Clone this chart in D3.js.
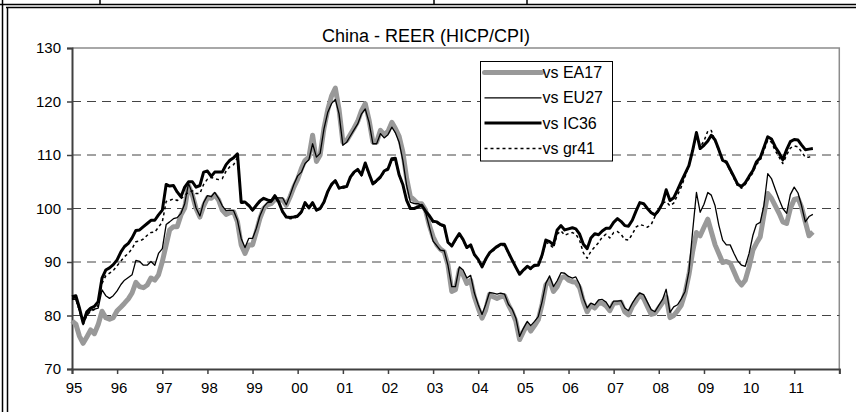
<!DOCTYPE html>
<html>
<head>
<meta charset="utf-8">
<script src="https://cdn.jsdelivr.net/npm/d3@7"></script>
<style>
  body { margin: 0; background: #fff; }
  svg { display: block; font-family: "Liberation Sans", Arial, sans-serif; }
</style>
</head>
<body>
<svg width="856" height="412"></svg>
<script>
// monthly data, Jan 1995 .. Jun 2011
const startYear = 1995;
const yearLabels = ['95', '96', '97', '98', '99', '00', '01', '02', '03', '04', '05', '06', '07', '08', '09', '10', '11'];
const yTicks = [70, 80, 90, 100, 110, 120, 130];
const gridValues = [80, 90, 100, 110, 120];

const ea17 = [
  79.0, 78.4, 76.2, 74.8, 76.0, 77.3, 76.6, 78.3, 80.8, 79.6, 79.3, 79.6,
  80.9, 81.6, 82.3, 83.1, 84.2, 86.2, 85.4, 85.2, 85.7, 87.0, 86.6, 87.6,
  90.1, 93.2, 96.0, 96.6, 96.6, 98.8, 100.1, 104.3, 102.5, 100.0, 98.4, 100.5,
  102.0, 101.9, 102.6, 101.6, 99.7, 98.9, 99.2, 99.4, 97.5, 93.2, 91.6, 93.2,
  93.2, 95.7, 98.1, 100.0, 100.7, 100.9, 101.7, 101.6, 101.6, 100.6, 102.2, 104.0,
  105.5, 107.5, 109.0, 109.6, 113.7, 108.8, 110.0, 115.0, 118.5, 121.0, 122.5, 118.5,
  112.4, 112.7, 113.8, 115.0, 116.3, 118.3, 119.6, 116.5, 112.4, 112.4, 114.6, 113.8,
  114.4, 116.1, 115.0, 113.5, 110.6, 105.6, 102.2, 101.6, 100.9, 100.9, 99.7, 96.9,
  94.7, 93.2, 92.4, 91.9, 89.5, 84.5, 84.8, 88.5, 87.6, 86.0, 86.6, 83.5,
  81.4, 79.5, 81.0, 83.9, 83.5, 83.2, 83.5, 83.7, 82.0, 80.7, 78.9, 75.5,
  77.0, 78.3, 77.1, 78.1, 79.2, 82.1, 85.7, 86.6, 84.5, 85.4, 87.0, 87.3,
  86.6, 86.3, 86.2, 85.2, 82.6, 80.7, 81.9, 81.4, 82.3, 82.3, 81.8, 80.9,
  82.3, 82.4, 82.5, 80.7, 80.1, 81.7, 82.7, 83.9, 83.2, 81.7, 80.2, 80.4,
  81.4, 82.4, 83.5, 79.6, 80.0, 80.9, 81.9, 84.2, 87.6, 91.9, 95.5, 94.9,
  96.5, 98.0, 95.7, 93.2, 91.6, 89.9, 90.1, 89.8, 88.2, 86.6, 85.7, 86.6,
  89.1, 92.2, 93.5, 94.7, 98.8, 102.8, 101.9, 100.5, 99.1, 97.5, 97.2, 100.0,
  101.7, 101.9, 100.3, 97.5, 94.9, 95.6
];

const eu27 = [
  83.2, 83.0, 81.0, 79.2, 80.0, 81.0, 81.2, 81.4, 84.8, 83.7, 83.2, 83.7,
  84.6, 85.8, 86.6, 87.1, 87.6, 90.3, 90.1, 89.4, 89.4, 90.1, 89.4, 91.6,
  92.5, 97.0, 97.5, 98.1, 98.3, 99.1, 100.9, 104.7, 102.8, 100.1, 98.6, 101.1,
  102.4, 102.2, 103.0, 101.9, 100.5, 99.6, 99.7, 99.6, 97.8, 94.4, 92.7, 94.4,
  94.4, 96.3, 98.6, 100.3, 101.1, 101.2, 102.0, 102.0, 102.0, 100.7, 102.5, 104.5,
  106.1, 106.8, 108.4, 109.1, 112.1, 109.6, 110.3, 114.9, 118.0, 119.6, 120.4, 117.7,
  111.8, 112.4, 113.5, 114.7, 115.8, 117.7, 118.6, 116.1, 112.1, 112.1, 114.0, 113.2,
  113.8, 115.2, 114.2, 112.4, 109.0, 104.3, 101.2, 100.9, 100.9, 100.6, 99.3, 96.6,
  93.9, 93.0, 92.2, 92.1, 89.4, 85.4, 85.4, 89.1, 88.5, 87.0, 87.5, 84.2,
  82.0, 80.2, 82.0, 84.3, 84.2, 84.0, 84.2, 84.0, 82.1, 81.2, 79.5, 76.1,
  77.6, 78.9, 78.1, 78.9, 79.8, 82.6, 86.0, 87.4, 85.4, 86.5, 88.0, 87.9,
  87.3, 87.0, 87.2, 85.8, 83.2, 81.4, 82.3, 82.0, 82.9, 83.0, 82.5, 81.4,
  82.7, 82.7, 82.8, 81.4, 80.9, 82.3, 83.4, 84.2, 83.9, 82.5, 81.1, 80.7,
  81.9, 83.0, 84.9, 80.6, 81.6, 82.0, 83.1, 84.5, 88.2, 95.7, 103.0, 99.3,
  100.8, 103.0, 102.5, 100.5, 96.9, 94.1, 93.2, 93.2, 91.6, 90.2, 89.4, 89.2,
  91.6, 95.0, 97.0, 97.4, 100.6, 106.5, 105.6, 103.6, 101.7, 100.0, 99.1, 102.6,
  104.0, 102.9, 100.6, 97.5, 98.5, 98.9
];

const ic36 = [
  83.5, 83.7, 81.5, 78.6, 80.7, 81.4, 81.7, 82.6, 87.0, 88.5, 88.9, 89.5,
  90.4, 91.9, 92.9, 93.5, 94.5, 95.9, 96.0, 96.6, 97.2, 97.8, 97.8, 98.8,
  99.7, 104.5, 104.2, 104.3, 103.1, 102.2, 104.0, 105.0, 105.0, 104.0, 104.3, 106.8,
  107.0, 106.0, 106.8, 106.8, 106.8, 108.2, 109.0, 109.5, 110.2, 101.2, 101.2, 100.6,
  99.7, 100.6, 101.4, 101.9, 101.6, 101.4, 102.4, 101.2, 99.4, 98.4, 98.3, 98.4,
  98.6, 99.4, 101.1, 100.1, 101.1, 99.7, 100.0, 101.2, 103.2, 104.5, 105.2, 103.8,
  104.0, 104.1, 105.8, 106.8, 107.3, 106.3, 108.5, 106.5, 104.6, 105.2, 105.9, 107.0,
  107.4, 109.3, 109.4, 106.3, 104.5, 101.5, 100.0, 100.0, 100.3, 100.6, 99.5, 98.7,
  97.6, 97.5, 97.0, 96.8, 93.7, 93.0, 94.2, 95.3, 94.2, 92.7, 93.2, 91.4,
  90.5, 89.1, 90.5, 91.7, 92.3, 92.9, 93.3, 93.3, 91.8, 90.4, 89.0, 87.7,
  88.5, 89.2, 88.8, 89.4, 89.4, 91.3, 94.1, 93.8, 93.2, 96.0, 96.8, 96.0,
  96.2, 96.4, 96.2, 95.2, 93.3, 92.5, 94.5, 95.3, 95.1, 95.8, 96.3, 96.3,
  97.4, 98.1, 97.6, 96.8, 96.7, 97.8, 99.5, 101.1, 100.9, 100.0, 99.2, 98.8,
  99.7, 101.0, 103.5, 101.5, 102.0, 103.5, 105.0, 106.5, 108.0, 110.8, 114.2, 111.2,
  111.8, 112.6, 113.7, 112.8, 111.0, 109.0, 108.7, 107.3, 105.9, 104.5, 104.1, 104.8,
  106.0, 107.1, 108.7, 109.5, 111.4, 113.4, 113.0, 111.5, 110.4, 109.1, 111.0, 112.5,
  112.9, 112.8, 111.9, 111.0, 111.1, 111.2
];

const gr41 = [
  83.0, 83.1, 81.0, 78.3, 80.0, 80.8, 81.1, 81.9, 86.0, 87.4, 87.9, 88.4,
  89.3, 90.2, 91.0, 91.6, 92.5, 93.8, 93.9, 94.3, 95.0, 95.5, 95.6, 96.5,
  97.5, 101.3, 101.5, 101.8, 101.5, 101.8, 102.5, 103.0, 103.3, 102.8, 102.8, 104.5,
  105.5, 105.8, 105.6, 105.4, 105.6, 107.0, 107.8, 108.2, 109.5, 101.0, 101.0, 100.4,
  99.6, 100.5, 101.2, 101.8, 101.5, 101.3, 102.2, 101.1, 99.3, 98.3, 98.1, 98.2,
  98.4, 99.2, 100.8, 100.0, 100.8, 99.6, 99.8, 101.0, 103.0, 104.3, 105.0, 103.7,
  103.8, 104.0, 105.6, 106.6, 107.1, 106.1, 108.2, 106.3, 104.5, 105.0, 105.7, 106.8,
  107.2, 109.0, 109.1, 106.2, 104.3, 101.4, 100.0, 100.0, 100.2, 100.5, 99.3, 98.5,
  97.4, 97.3, 96.8, 96.6, 93.6, 92.9, 94.0, 95.1, 94.0, 92.6, 93.0, 91.3,
  90.4, 89.0, 90.3, 91.5, 92.1, 92.7, 93.1, 93.1, 91.6, 90.2, 88.9, 87.6,
  88.3, 89.0, 88.6, 89.2, 89.2, 91.0, 93.7, 93.3, 92.6, 95.2, 95.8, 95.0,
  95.3, 95.5, 95.2, 94.0, 91.7, 90.7, 92.0, 92.8, 93.6, 94.7, 95.2, 94.5,
  95.5, 95.7, 95.2, 94.2, 94.1, 95.2, 96.5, 97.0, 96.8, 96.5, 97.0, 98.5,
  99.5, 101.0, 101.3, 100.5, 101.0, 102.5, 104.0, 106.0, 108.0, 110.8, 113.8, 111.5,
  112.6, 114.5, 114.6, 112.6, 110.8, 108.8, 108.5, 107.0, 105.6, 104.2, 103.8, 104.5,
  105.6, 106.7, 108.2, 109.0, 110.8, 112.8, 112.4, 110.8, 109.6, 108.4, 110.0, 111.3,
  111.7, 111.5, 110.6, 109.6, 109.6, 109.8
];

const series = [
  { name: 'vs EA17', values: ea17, color: '#999999', width: 5, dash: null },
  { name: 'vs EU27', values: eu27, color: '#000000', width: 1.3, dash: null },
  { name: 'vs IC36', values: ic36, color: '#000000', width: 3, dash: null },
  { name: 'vs gr41', values: gr41, color: '#000000', width: 1.5, dash: '3,3' }
];

let svg = d3.select('svg');

// outer frame (sheet borders)
let frame = svg.append('g').attr('stroke', '#000').attr('fill', 'none');
frame.append('line').attr('x1', 0).attr('x2', 856).attr('y1', 4.5).attr('y2', 4.5).attr('stroke-width', 1.5);
frame.append('line').attr('x1', 6).attr('x2', 856).attr('y1', 7.5).attr('y2', 7.5).attr('stroke-width', 1.5);
frame.append('line').attr('x1', 2.5).attr('x2', 2.5).attr('y1', 0).attr('y2', 412).attr('stroke-width', 1.5);
frame.append('line').attr('x1', 7.5).attr('x2', 7.5).attr('y1', 7).attr('y2', 412).attr('stroke-width', 1.5);
[100, 434, 527].forEach(cx => {
  frame.append('line').attr('x1', cx).attr('x2', cx).attr('y1', 0).attr('y2', 4).attr('stroke-width', 1.5);
});

// scales
let x = d3.scaleTime()
  .domain([new Date(startYear, 0, 1), new Date(2012, 0, 1)])
  .range([72, 839.3]);

let y = d3.scaleLinear()
  .domain([70, 130])
  .range([369, 48]);

let monthDate = (i) => new Date(startYear, i, 1);

// title
svg.append('text')
  .attr('x', 426)
  .attr('y', 42)
  .attr('text-anchor', 'middle')
  .attr('font-size', '18px')
  .text('China - REER (HICP/CPI)');

// plot border (top and right)
svg.append('path')
  .attr('d', `M${x.range()[0]},${y(130)}H${x.range()[1]}V${y(70)}`)
  .attr('fill', 'none')
  .attr('stroke', '#8c8c8c')
  .attr('stroke-width', 1.5);

// gridlines
svg.append('g')
  .selectAll('line')
  .data(gridValues)
  .join('line')
  .attr('x1', x.range()[0])
  .attr('x2', x.range()[1])
  .attr('y1', d => y(d))
  .attr('y2', d => y(d))
  .attr('stroke', '#444')
  .attr('stroke-width', 1)
  .attr('stroke-dasharray', '9,6');

// axes
let yearTicks = d3.range(startYear, 2013).map(yr => new Date(yr, 0, 1));

let xAxis = svg.append('g')
  .attr('transform', `translate(0,${y(70)})`)
  .call(d3.axisBottom(x)
    .tickValues(yearTicks)
    .tickSize(5)
    .tickPadding(8)
    .tickFormat((d, i) => yearLabels[i] || ''));

let yAxis = svg.append('g')
  .attr('transform', `translate(${x.range()[0]},0)`)
  .call(d3.axisLeft(y)
    .tickValues(yTicks)
    .tickSize(5)
    .tickPadding(6)
    .tickFormat(d3.format('d')));

[xAxis, yAxis].forEach(ax => {
  ax.attr('font-family', null).attr('font-size', null);
  ax.select('.domain').attr('stroke', '#404040').attr('stroke-width', 2);
  ax.selectAll('.tick line').attr('stroke', '#404040').attr('stroke-width', 1.5);
  ax.selectAll('.tick text').attr('fill', '#000').attr('font-size', '15px');
});
xAxis.selectAll('.tick text').attr('dx', '1.5');

// series lines
let line = d3.line()
  .x((d, i) => x(monthDate(i)))
  .y(d => y(d));

svg.append('g')
  .selectAll('path')
  .data(series)
  .join('path')
  .attr('d', d => line(d.values))
  .attr('fill', 'none')
  .attr('stroke', d => d.color)
  .attr('stroke-width', d => d.width)
  .attr('stroke-dasharray', d => d.dash)
  .attr('stroke-linejoin', 'round');

// legend
let legend = svg.append('g').attr('transform', 'translate(480.5,61.5)');

legend.append('rect')
  .attr('width', 132)
  .attr('height', 99.5)
  .attr('fill', '#fff')
  .attr('stroke', '#000')
  .attr('stroke-width', 1);

let items = legend.selectAll('g.item')
  .data(series)
  .join('g')
  .attr('class', 'item')
  .attr('transform', (d, i) => `translate(0,${11 + i * 25.3})`);

items.append('line')
  .attr('x1', 4)
  .attr('x2', 61)
  .attr('stroke', d => d.color)
  .attr('stroke-width', d => d.width)
  .attr('stroke-dasharray', d => d.dash)
  .attr('stroke-linecap', d => d.width > 4 ? 'round' : 'butt');

items.append('text')
  .attr('x', 62)
  .attr('y', 5.5)
  .attr('font-size', '16px')
  .text(d => d.name);
</script>
</body>
</html>
